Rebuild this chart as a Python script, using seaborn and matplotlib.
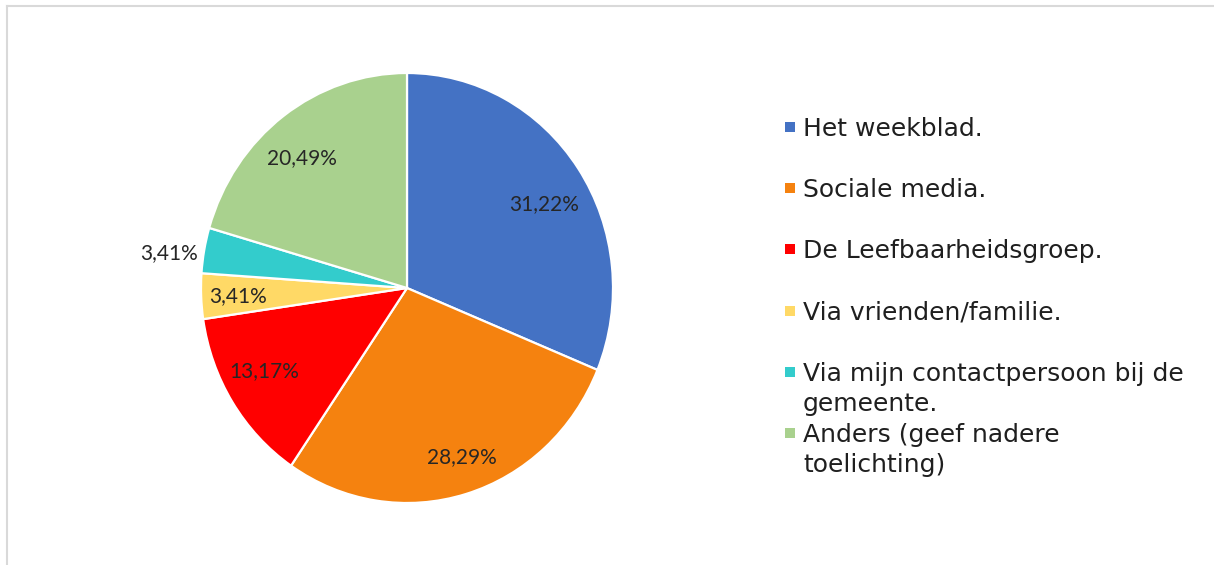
import matplotlib
matplotlib.use("Agg")
import matplotlib.pyplot as plt
from matplotlib.patches import Rectangle
import numpy as np
import seaborn as sns

# ---- data ----
categories = [
    "Het weekblad.",
    "Sociale media.",
    "De Leefbaarheidsgroep.",
    "Via vrienden/familie.",
    "Via mijn contactpersoon bij de\ngemeente.",
    "Anders (geef nadere\ntoelichting)",
]
values = [31.22, 28.29, 13.17, 3.41, 3.41, 20.49]
value_labels = ["31,22%", "28,29%", "13,17%", "3,41%", "3,41%", "20,49%"]
colors = ["#4472C4", "#F5820F", "#FF0000", "#FFD966", "#33CCCC", "#A9D18E"]

# label placement: distance from centre (fraction of radius; >1 = outside)
# and small angular nudge (degrees) from the wedge mid-angle
label_dist = [0.771, 0.829, 0.792, 0.821, 1.03, 0.791]
label_nudge = [-3.3, 1.9, -3.0, 0.4, 0.9, 3.2]

sns.set_theme(style="white")
plt.rcParams["font.family"] = ["DejaVu Sans"]

W, H = 1214, 565
fig = plt.figure(figsize=(W / 100, H / 100), dpi=100)
fig.patch.set_facecolor("white")

# overlay axes in pixel coordinates for frame and legend
lax = fig.add_axes([0, 0, 1, 1])
lax.set_xlim(0, W)
lax.set_ylim(H, 0)
lax.axis("off")
lax.plot([7, 7], [H + 5, 6], color="#d9d9d9", linewidth=1.5,
         solid_capstyle="projecting")
lax.plot([7, W + 5], [6, 6], color="#d9d9d9", linewidth=1.5,
         solid_capstyle="projecting")

# pie axes
cx, cy, rx, ry = 407, 288, 206, 215
m = 1.1
ax = fig.add_axes([(cx - rx * m) / W, (H - cy - ry * m) / H,
                   2 * rx * m / W, 2 * ry * m / H])
wedges, _ = ax.pie(values, colors=colors, startangle=90, counterclock=False,
                   wedgeprops=dict(edgecolor="white", linewidth=1.6))
ax.set_aspect("auto")
ax.set_xlim(-m, m)
ax.set_ylim(-m, m)
ax.axis("off")

for w, lab, d, nd in zip(wedges, value_labels, label_dist, label_nudge):
    mid = np.deg2rad((w.theta1 + w.theta2) / 2 + nd)
    x, y = d * np.cos(mid), d * np.sin(mid)
    ha = "right" if d > 1 else "center"
    ax.text(x, y, lab, ha=ha, va="center", fontsize=15,
            family=["Lato", "DejaVu Sans"], color="#262626")

# legend (Excel style: fixed pitch, extra lines hang below)
ly0, lpitch = 127, 61.2
for i, (cat, w) in enumerate(zip(categories, wedges)):
    y = ly0 + i * lpitch
    lax.add_patch(Rectangle((785, y - 5), 10, 10, facecolor=w.get_facecolor(),
                            edgecolor="none"))
    lax.text(803, y - 10, cat, fontsize=18, va="top", ha="left",
             color="#1f1f1f", linespacing=1.33)

fig.savefig("out.png", dpi=100, facecolor="white")
